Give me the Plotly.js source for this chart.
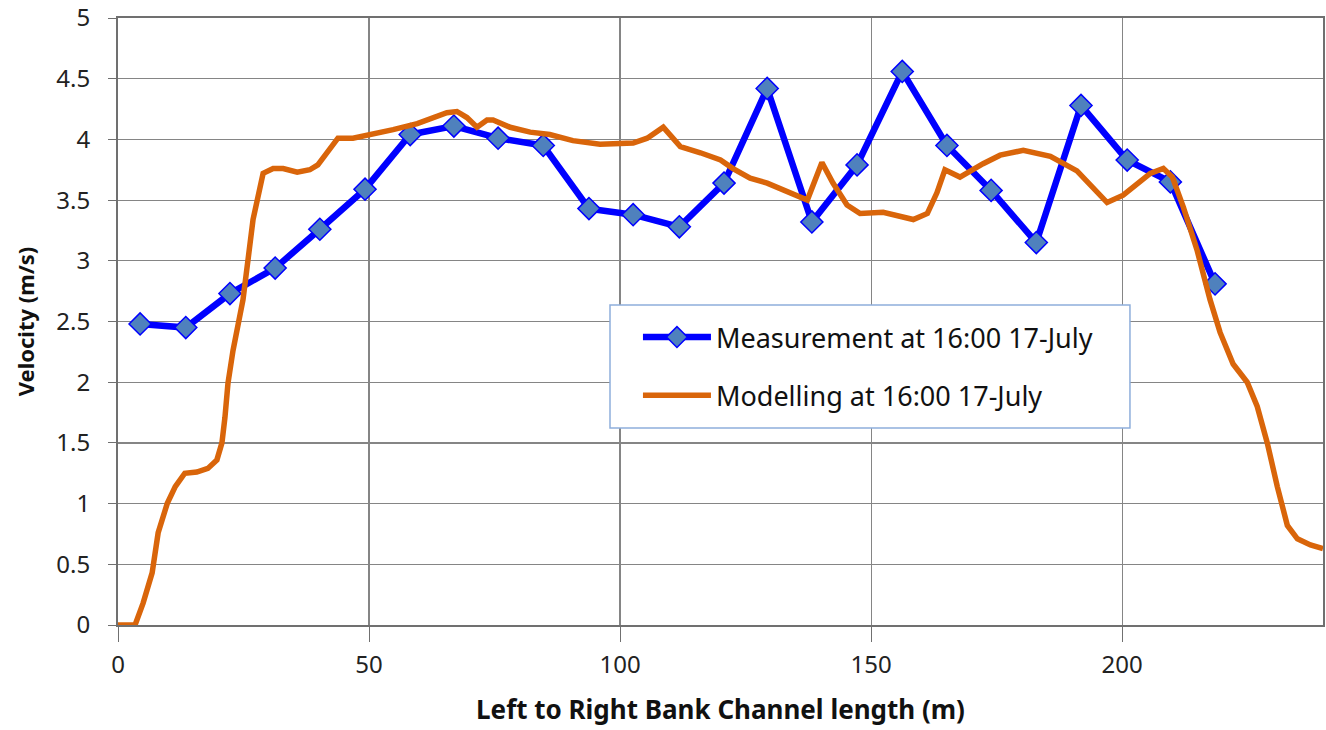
<!DOCTYPE html>
<html>
<head>
<meta charset="utf-8">
<script src="https://cdn.plot.ly/plotly-3.0.1.min.js"></script>
<style>html,body{margin:0;padding:0;background:#fff}#chart{width:1326px;height:730px}</style>
</head>
<body>
<div id="chart"></div>
<script>
// Measurement data
const measX = [4.4, 13.5, 22.3, 31.3, 40.2, 49.2, 58.2, 66.9, 75.7, 84.7, 93.8, 102.6, 111.8, 120.7, 129.3, 138.2, 147.2, 156.2, 165.1, 173.9, 182.9, 191.8, 201.0, 209.6, 218.5];
const measY = [2.48, 2.45, 2.73, 2.94, 3.26, 3.59, 4.04, 4.11, 4.01, 3.95, 3.43, 3.38, 3.28, 3.64, 4.42, 3.32, 3.79, 4.56, 3.95, 3.58, 3.15, 4.28, 3.83, 3.65, 2.81];

// Modelling data
const modX = [0, 3.4, 5.0, 6.8, 8.0, 9.8, 11.4, 13.3, 15.7, 17.9, 19.7, 20.7, 21.3, 21.9, 22.9, 23.9, 24.9, 26.9, 28.9, 30.9, 32.9, 35.7, 38.2, 39.8, 42.2, 43.8, 46.8, 50.8, 54.8, 59.6, 62.7, 65.5, 67.5, 69.5, 71.5, 73.5, 74.7, 78.1, 82.1, 86.0, 90.6, 96.0, 102.6, 105.4, 108.6, 109.4, 112.0, 116.0, 120.0, 122.5, 125.9, 129.3, 133.3, 137.3, 140.2, 142.4, 145.2, 147.8, 152.4, 155.8, 158.4, 161.2, 163.1, 164.7, 167.7, 172.3, 175.7, 180.3, 185.7, 191.0, 193.6, 197.0, 200.2, 205.6, 208.2, 210.0, 212.2, 214.9, 217.5, 219.5, 222.1, 224.9, 226.9, 228.9, 230.9, 232.9, 234.9, 237.5, 240];
const modY = [0, 0, 0.18, 0.43, 0.76, 1.0, 1.14, 1.25, 1.26, 1.29, 1.36, 1.50, 1.71, 1.99, 2.26, 2.46, 2.68, 3.34, 3.72, 3.76, 3.76, 3.73, 3.75, 3.79, 3.93, 4.01, 4.01, 4.04, 4.08, 4.13, 4.18, 4.22, 4.23, 4.18, 4.10, 4.16, 4.16, 4.10, 4.06, 4.04, 3.99, 3.96, 3.97, 4.01, 4.10, 4.06, 3.94, 3.89, 3.83, 3.76, 3.68, 3.64, 3.57, 3.50, 3.81, 3.64, 3.46, 3.39, 3.40, 3.36, 3.34, 3.39, 3.56, 3.75, 3.69, 3.80, 3.87, 3.91, 3.86, 3.74, 3.62, 3.48, 3.54, 3.72, 3.76, 3.69, 3.44, 3.09, 2.68, 2.41, 2.15, 2.00, 1.80, 1.50, 1.14, 0.82, 0.71, 0.66, 0.63];

const seriesNames = ["Measurement at 16:00 17-July", "Modelling at 16:00 17-July"];
const xTitle = "Left to Right Bank Channel length (m)";
const yTitle = "Velocity (m/s)";

const FONT = "Noto Sans, Open Sans, sans-serif";

const traces = [
  {
    x: measX, y: measY, name: seriesNames[0], type: "scatter", mode: "lines+markers",
    legendgroup: "a",
    line: {color: "#0000FF", width: 6.5},
    marker: {symbol: "diamond", size: 17, color: "#4F81BD", line: {color: "#0000FF", width: 1.5}}
  },
  {
    x: modX, y: modY, name: seriesNames[1], type: "scatter", mode: "lines",
    legendgroup: "b",
    line: {color: "#D9650A", width: 5.5}
  }
];

const layout = {
  width: 1326, height: 730,
  margin: {l: 118, r: 3, t: 18, b: 105},
  paper_bgcolor: "#ffffff", plot_bgcolor: "#ffffff",
  font: {family: FONT, color: "#222", size: 22},
  showlegend: true,
  legend: {
    x: 0.4315, y: 0.514, xanchor: "left", yanchor: "top",
    bgcolor: "rgba(0,0,0,0)", borderwidth: 0,
    font: {family: FONT, size: 27, color: "#111"},
    traceorder: "grouped", tracegroupgap: 20, itemwidth: 68,
    valign: "middle"
  },
  shapes: [{
    type: "rect", xref: "paper", yref: "paper", layer: "above",
    x0: 0.4083, x1: 0.8398, y0: 0.3245, y1: 0.5272,
    fillcolor: "#ffffff", line: {color: "#8EAEDB", width: 1.5}
  }],
  xaxis: {
    range: [0, 240], dtick: 50, tick0: 0,
    showgrid: true, gridcolor: "#858585", gridwidth: 1.2,
    showline: true, linecolor: "#707070", linewidth: 2, mirror: true,
    ticks: "outside", ticklen: 15, tickcolor: "#707070", tickwidth: 1,
    ticklabelstandoff: 2,
    zeroline: false,
    tickfont: {family: FONT, size: 24, color: "#222"},
    title: {text: "<b>" + xTitle + "</b>", font: {family: FONT, size: 26, color: "#111"}, standoff: 22},
    automargin: false
  },
  yaxis: {
    range: [0, 5], dtick: 0.5, tick0: 0,
    showgrid: true, gridcolor: "#858585", gridwidth: 1.2,
    showline: true, linecolor: "#707070", linewidth: 2, mirror: true,
    ticks: "outside", ticklen: 8, tickcolor: "#707070", tickwidth: 1,
    ticklabelstandoff: 13,
    zeroline: false,
    tickfont: {family: FONT, size: 24, color: "#222"},
    title: {text: "<b>" + yTitle + "</b>", font: {family: FONT, size: 22, color: "#111"}, standoff: 16},
    automargin: false
  }
};

Plotly.newPlot("chart", traces, layout, {displayModeBar: false, staticPlot: true});
</script>
</body>
</html>
